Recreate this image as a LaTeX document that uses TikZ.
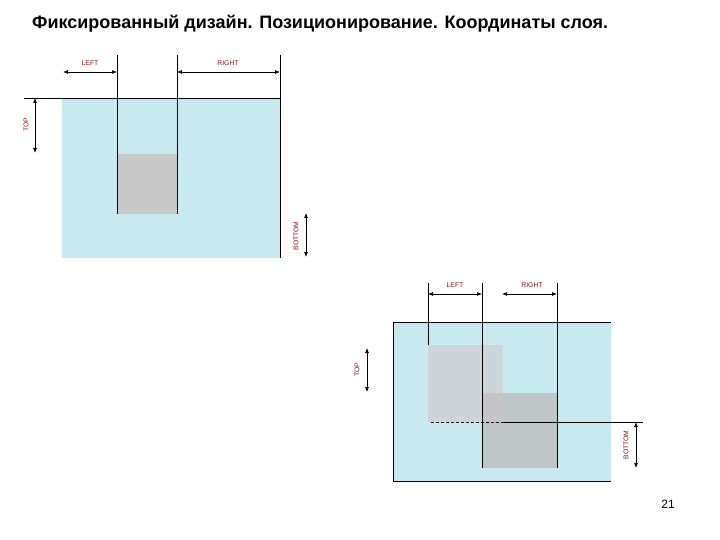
\documentclass[tikz,border=0pt]{standalone}
\usepackage{fontspec}
\setmainfont{Liberation Sans}
\usetikzlibrary{arrows.meta}
\definecolor{paneblue}{HTML}{C9E9F0}
\definecolor{layergray}{HTML}{C8C8C8}
\definecolor{layerA}{HTML}{CDD5DB}
\definecolor{layerB}{HTML}{BEC6C8}
\definecolor{layerAB}{HTML}{C6C4C6}
\definecolor{lblred}{HTML}{8B1010}
\tikzset{
  guide/.style={draw=black,line width=0.8pt},
  dim/.style={draw=black,line width=0.7pt,{Latex[length=5pt,width=4pt]}-{Latex[length=5pt,width=4pt]}},
  lbl/.style={text=lblred,font=\fontsize{6.8}{7}\selectfont,inner sep=0pt},
}
\begin{document}
\begin{tikzpicture}[x=1pt,y=-1pt]
\useasboundingbox (0,0) rectangle (720,540);
\node[anchor=west,font=\bfseries\fontsize{18}{20}\selectfont,inner sep=0pt] (title) at (32,24) {Фиксированный дизайн. Позиционирование. Координаты слоя.};
% ---- top diagram ----
\fill[paneblue] (62,98) rectangle (280,258);
\fill[layergray] (117,154) rectangle (177,214);
\coordinate (t1a) at (24,98); \coordinate (t1b) at (280,98);
\draw[guide] (t1a) -- (t1b);
\coordinate (v1a) at (117,55); \coordinate (v1b) at (117,214);
\coordinate (v2a) at (177,55); \coordinate (v2b) at (177,214);
\coordinate (v3a) at (280,55); \coordinate (v3b) at (280,258);
\draw[guide] (v1a) -- (v1b);
\draw[guide] (v2a) -- (v2b);
\draw[guide] (v3a) -- (v3b);
\coordinate (la) at (63,72); \coordinate (lb) at (117,72);
\draw[dim] (la) -- (lb);
\node[lbl] (leftA) at (90,63) {LEFT};
\coordinate (ra) at (177,72); \coordinate (rb) at (280,72);
\draw[dim] (ra) -- (rb);
\node[lbl] (rightA) at (228,63) {RIGHT};
\coordinate (ta) at (35,98); \coordinate (tb) at (35,153);
\draw[dim] (ta) -- (tb);
\node[lbl,rotate=90] (topA) at (26,125) {TOP};
\coordinate (ba) at (306,213); \coordinate (bb) at (306,257);
\draw[dim] (ba) -- (bb);
\node[lbl,rotate=90] (botA) at (296,236) {BOTTOM};
% ---- bottom diagram ----
\fill[paneblue] (393,322) rectangle (611,481);
\fill[layerA] (428,345) rectangle (503,422);
\fill[layerB] (482,393) rectangle (557,468);
\fill[layerAB] (482,393) rectangle (503,422);
\coordinate (p1) at (611,322); \coordinate (p2) at (393,322);
\coordinate (p3) at (393,481); \coordinate (p4) at (611,481);
\draw[guide] (p1) -- (p2) -- (p3) -- (p4);
\coordinate (w1a) at (428,283); \coordinate (w1b) at (428,345);
\coordinate (w2a) at (482,283); \coordinate (w2b) at (482,468);
\coordinate (w3a) at (557,283); \coordinate (w3b) at (557,468);
\draw[guide] (w1a) -- (w1b);
\draw[guide] (w2a) -- (w2b);
\draw[guide] (w3a) -- (w3b);
\coordinate (lc) at (428,294); \coordinate (ld) at (482,294);
\draw[dim] (lc) -- (ld);
\node[lbl] (leftB) at (455,285) {LEFT};
\coordinate (rc) at (502,294); \coordinate (rd) at (557,294);
\draw[dim] (rc) -- (rd);
\node[lbl] (rightB) at (532,285) {RIGHT};
\coordinate (tc) at (367,348); \coordinate (td) at (367,392);
\draw[dim] (tc) -- (td);
\node[lbl,rotate=90] (topB) at (357,370) {TOP};
\coordinate (d1) at (431,422); \coordinate (d2) at (503,422); \coordinate (d3) at (643,422);
\draw[guide,dashed,dash pattern=on 3pt off 2pt] (d1) -- (d2);
\draw[guide] (d2) -- (d3);
\coordinate (bc) at (636,422); \coordinate (bd) at (636,468);
\draw[dim] (bc) -- (bd);
\node[lbl,rotate=90] (botB) at (626,445) {BOTTOM};
\node[font=\fontsize{12}{14}\selectfont,inner sep=0pt] (pg) at (668,504) {21};
\end{tikzpicture}
\end{document}
